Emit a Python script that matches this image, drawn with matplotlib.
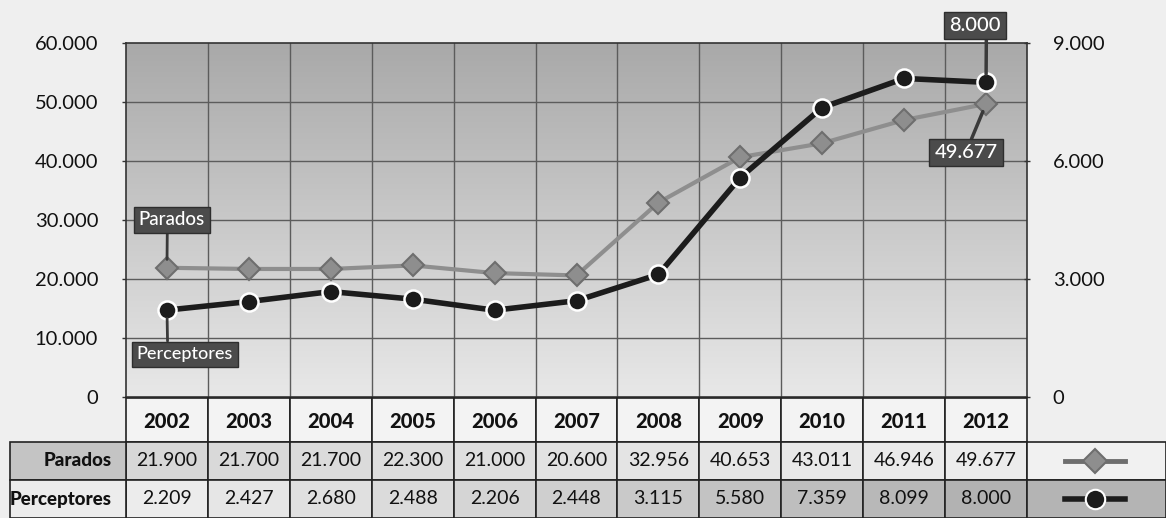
import matplotlib
matplotlib.use("Agg")
import matplotlib.pyplot as plt
import numpy as np
from matplotlib.colors import LinearSegmentedColormap, to_rgb
from matplotlib.patches import Rectangle

plt.rcParams['font.family'] = ['Lato', 'DejaVu Sans']

years = ['2002', '2003', '2004', '2005', '2006', '2007',
         '2008', '2009', '2010', '2011', '2012']
parados = [21900, 21700, 21700, 22300, 21000, 20600,
           32956, 40653, 43011, 46946, 49677]
perceptores = [2209, 2427, 2680, 2488, 2206, 2448,
               3115, 5580, 7359, 8099, 8000]
left_ticks = [0, 10000, 20000, 30000, 40000, 50000, 60000]
right_ticks = [0, 3000, 6000, 9000]


def fmt(v):
    return f"{v:,}".replace(',', '.')


def mix(c1, c2, t):
    a, b = np.array(to_rgb(c1)), np.array(to_rgb(c2))
    return tuple(a + (b - a) * t)


W, H = 1166, 518
PAGE = '#efefef'
fig = plt.figure(figsize=(W / 100, H / 100), dpi=100, facecolor=PAGE)

# main plot area (pixels: x 126-1027, y 43-397)
ax = fig.add_axes([126 / W, 1 - 397 / H, 901 / W, 354 / H])
n = len(years)
x = np.arange(n)
ax.set_xlim(-0.5, n - 0.5)
ax.set_ylim(0, 60000)

grad = LinearSegmentedColormap.from_list('g', ['#a9a9a9', '#e8e8e8'])
ax.imshow(np.linspace(0, 1, 256).reshape(-1, 1), extent=[-0.5, n - 0.5, 0, 60000],
          aspect='auto', cmap=grad, origin='upper', zorder=0)
for v in left_ticks[1:-1]:
    ax.axhline(v, color='#5c5c5c', lw=1, zorder=1)
for i in range(n - 1):
    ax.axvline(i + 0.5, color='#5c5c5c', lw=1, zorder=1)

ax.plot(x, parados, color='#8e8e8e', lw=3, marker='D', ms=11,
        mfc='#8e8e8e', mec='#6e6e6e', mew=1.5, zorder=3)

ax.set_xticks([])
ax.set_yticks(left_ticks)
ax.set_yticklabels([fmt(v) for v in left_ticks], fontsize=14.5, color='#111')
ax.tick_params(axis='y', length=3, width=1, color='#333', pad=17)
for s in ['left', 'bottom', 'top', 'right']:
    ax.spines[s].set_color('#333')
    ax.spines[s].set_linewidth(1.2)

ax2 = ax.twinx()
ax2.set_ylim(0, 9000)
ax2.plot(x, perceptores, color='#1c1c1c', lw=4, marker='o', ms=13,
         mfc='#1c1c1c', mec='white', mew=1.8, zorder=4)
ax2.set_yticks(right_ticks)
ax2.set_yticklabels([fmt(v) for v in right_ticks], fontsize=14.5, color='#111')
ax2.tick_params(axis='y', length=5, width=1, color='#333', pad=16, direction='inout')
for s in ax2.spines.values():
    s.set_visible(False)

box = dict(boxstyle='square,pad=0.25', fc='#4b4b4b', ec='#2e2e2e', lw=1)
arrow = dict(arrowstyle='-', color='#3a3a3a', lw=2, shrinkA=0, shrinkB=6)

ax.annotate('Parados', xy=(0, parados[0]), xytext=(5, 48), textcoords='offset pixels',
            ha='center', va='center', color='white', fontsize=13.5, fontweight='medium',
            bbox=box, arrowprops=dict(arrow, relpos=(0.43, 0)), zorder=5)
ax2.annotate('Perceptores', xy=(0, perceptores[0]), xytext=(18, -44),
             textcoords='offset pixels', ha='center', va='center', color='white',
             fontsize=13, fontweight='medium', bbox=box,
             arrowprops=dict(arrow, relpos=(0.32, 1)), zorder=5)
ax2.annotate(fmt(perceptores[-1]), xy=(n - 1, perceptores[-1]), xytext=(-11, 57),
             textcoords='offset pixels', ha='center', va='center', color='white',
             fontsize=14.5, fontweight='medium', bbox=box,
             arrowprops=dict(arrow, lw=2.5, relpos=(0.72, 0)), zorder=5)
ax2.annotate(fmt(parados[-1]), xy=(n - 1, parados[-1] * 9000 / 60000), xytext=(-20, -49),
             textcoords='offset pixels', ha='center', va='center', color='white',
             fontsize=14.5, fontweight='medium', bbox=box,
             arrowprops=dict(arrow, lw=2.5, relpos=(0.55, 1)), zorder=5)

# data table under the plot (y in pixels below the zero line)
axt = fig.add_axes([126 / W, 0, 901 / W, 121 / H])
axt.set_xlim(-0.5, n - 0.5)
axt.set_ylim(121, 0)
axt.axis('off')
u = 901 / n
lab_x0 = -0.5 - 116 / u
leg_x1 = n - 0.5 + 139 / u
rows = [(1, 45), (45, 83), (83, 121)]
ec = '#222'


def cell(x0, y0, w, h, fc, edge=ec):
    axt.add_patch(Rectangle((x0, y0), w, h, fc=fc, ec=edge, lw=1.2, clip_on=False))


for i, yr in enumerate(years):
    t = i / (n - 1)
    cell(i - 0.5, rows[0][0], 1, rows[0][1] - rows[0][0], '#f3f3f3')
    cell(i - 0.5, rows[1][0], 1, rows[1][1] - rows[1][0], mix('#d7d7d7', '#ececec', t))
    cell(i - 0.5, rows[2][0], 1, rows[2][1] - rows[2][0], mix('#ececec', '#b2b2b2', t))
    axt.text(i, 24, yr, ha='center', va='center', fontsize=14.5, fontweight='black',
             color='#111')
    axt.text(i, 64, fmt(parados[i]), ha='center', va='center', fontsize=14, color='#111')
    axt.text(i, 102, fmt(perceptores[i]), ha='center', va='center', fontsize=14,
             color='#111')

cell(lab_x0, rows[1][0], -0.5 - lab_x0, 38, '#c4c4c4')
cell(lab_x0, rows[2][0], -0.5 - lab_x0, 38, '#ececec')
cell(n - 0.5, rows[1][0], leg_x1 - n + 0.5, 38, '#f1f1f1')
cell(n - 0.5, rows[2][0], leg_x1 - n + 0.5, 38, '#b4b4b4')
axt.text(-0.5 - 14 / u, 64, 'Parados', ha='right', va='center', fontsize=13.5,
         fontweight='black', color='#111')
axt.text(-0.5 - 14 / u, 102, 'Perceptores', ha='right', va='center', fontsize=13.5,
         fontweight='black', color='#111')

lx = [n - 0.5 + 38 / u, n - 0.5 + 98 / u]
axt.plot(lx, [64, 64], color='#6e6e6e', lw=3.5, clip_on=False)
axt.plot(np.mean(lx), 64, marker='D', ms=12, mfc='#8e8e8e', mec='#6e6e6e', mew=1.5,
         clip_on=False)
axt.plot(lx, [102, 102], color='#1c1c1c', lw=4, clip_on=False)
axt.plot(np.mean(lx), 102, marker='o', ms=14, mfc='#1c1c1c', mec='white', mew=1.5,
         clip_on=False)

fig.savefig('out.png', dpi=100, facecolor=PAGE)
